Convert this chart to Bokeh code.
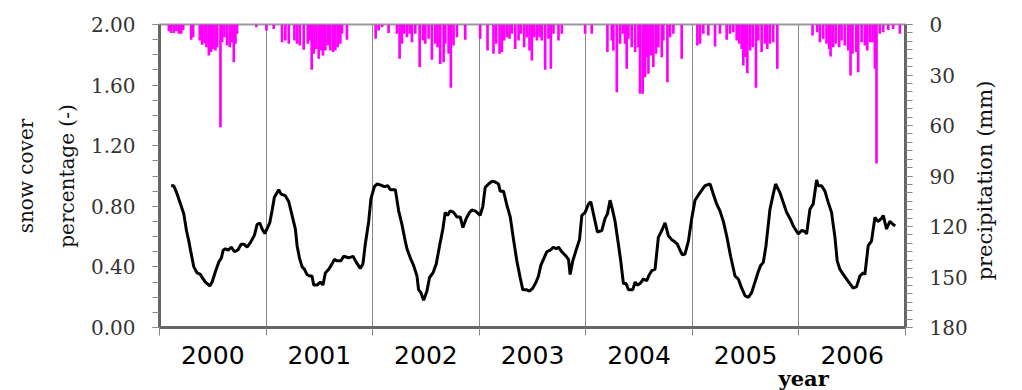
import math
from bokeh.plotting import figure
from bokeh.models import (Range1d, LinearAxis, FixedTicker, PrintfTickFormatter, Title)
from bokeh.embed import file_html
from bokeh.resources import INLINE

# ---- data ----
years = [2000, 2001, 2002, 2003, 2004, 2005, 2006]

snow_t = [2000.109, 2000.134, 2000.166, 2000.197, 2000.228, 2000.253, 2000.275, 2000.291, 2000.322, 2000.353,
          2000.384, 2000.400, 2000.431, 2000.472, 2000.494, 2000.525, 2000.556, 2000.581, 2000.597, 2000.619,
          2000.644, 2000.675, 2000.703, 2000.734, 2000.766, 2000.791, 2000.822, 2000.853, 2000.891, 2000.916,
          2000.941, 2000.963, 2000.988, 2001.034, 2001.056, 2001.078, 2001.119, 2001.141, 2001.181, 2001.213,
          2001.244, 2001.275, 2001.291, 2001.313, 2001.338, 2001.359, 2001.384, 2001.409, 2001.431, 2001.447,
          2001.478, 2001.509, 2001.534, 2001.556, 2001.588, 2001.619, 2001.641, 2001.666, 2001.703, 2001.728,
          2001.775, 2001.816, 2001.847, 2001.884, 2001.909, 2001.931, 2001.963, 2001.984, 2002.016, 2002.041,
          2002.078, 2002.109, 2002.141, 2002.166, 2002.213, 2002.244, 2002.275, 2002.306, 2002.322, 2002.353,
          2002.384, 2002.416, 2002.431, 2002.453, 2002.478, 2002.509, 2002.534, 2002.566, 2002.597, 2002.628,
          2002.659, 2002.681, 2002.703, 2002.728, 2002.759, 2002.791, 2002.822, 2002.847, 2002.878, 2002.909,
          2002.931, 2002.963, 2002.994, 2003.009, 2003.034, 2003.056, 2003.088, 2003.119, 2003.150, 2003.181,
          2003.197, 2003.228, 2003.259, 2003.291, 2003.322, 2003.353, 2003.384, 2003.409, 2003.441, 2003.472,
          2003.503, 2003.534, 2003.556, 2003.578, 2003.603, 2003.634, 2003.666, 2003.697, 2003.722, 2003.744,
          2003.775, 2003.816, 2003.838, 2003.853, 2003.878, 2003.909, 2003.941, 2003.963, 2003.994, 2004.025,
          2004.047, 2004.078, 2004.109, 2004.150, 2004.181, 2004.203, 2004.228, 2004.253, 2004.275, 2004.306,
          2004.328, 2004.353, 2004.378, 2004.400, 2004.441, 2004.463, 2004.484, 2004.509, 2004.541, 2004.572,
          2004.597, 2004.619, 2004.650, 2004.681, 2004.713, 2004.744, 2004.775, 2004.806, 2004.828, 2004.859,
          2004.884, 2004.906, 2004.931, 2004.963, 2004.994, 2005.025, 2005.072, 2005.119, 2005.166, 2005.197,
          2005.228, 2005.259, 2005.291, 2005.322, 2005.359, 2005.400, 2005.431, 2005.463, 2005.494, 2005.525,
          2005.556, 2005.588, 2005.619, 2005.641, 2005.666, 2005.691, 2005.728, 2005.759, 2005.781, 2005.822,
          2005.853, 2005.884, 2005.916, 2005.947, 2005.994, 2006.025, 2006.056, 2006.072, 2006.103, 2006.134,
          2006.166, 2006.181, 2006.213, 2006.244, 2006.275, 2006.306, 2006.338, 2006.359, 2006.384, 2006.416,
          2006.447, 2006.478, 2006.509, 2006.541, 2006.572, 2006.603, 2006.619, 2006.650, 2006.681, 2006.713,
          2006.744, 2006.775, 2006.791, 2006.822, 2006.853, 2006.884, 2006.903]

snow_v = [0.936, 0.936, 0.88, 0.815, 0.75, 0.64, 0.57, 0.51, 0.40, 0.36,
          0.35, 0.33, 0.30, 0.275, 0.30, 0.37, 0.43, 0.46, 0.51, 0.52,
          0.51, 0.53, 0.50, 0.51, 0.55, 0.55, 0.53, 0.56, 0.61, 0.68,
          0.69, 0.65, 0.62, 0.69, 0.77, 0.86, 0.91, 0.88, 0.87, 0.83,
          0.74, 0.65, 0.54, 0.46, 0.40, 0.385, 0.35, 0.34, 0.34, 0.28,
          0.28, 0.30, 0.28, 0.36, 0.385, 0.42, 0.45, 0.44, 0.44, 0.47,
          0.46, 0.47, 0.43, 0.39, 0.42, 0.55, 0.70, 0.85, 0.93, 0.947,
          0.94, 0.93, 0.936, 0.91, 0.91, 0.77, 0.68, 0.57, 0.52, 0.46,
          0.41, 0.34, 0.25, 0.23, 0.18, 0.24, 0.33, 0.36, 0.42, 0.54,
          0.65, 0.76, 0.74, 0.77, 0.76, 0.73, 0.73, 0.66, 0.72, 0.76,
          0.775, 0.77, 0.75, 0.74, 0.80, 0.925, 0.947, 0.965, 0.96, 0.947,
          0.90, 0.90, 0.81, 0.73, 0.58, 0.44, 0.33, 0.25, 0.25, 0.24,
          0.26, 0.30, 0.34, 0.41, 0.45, 0.50, 0.51, 0.53, 0.52, 0.53,
          0.50, 0.47, 0.45, 0.35, 0.44, 0.51, 0.58, 0.74, 0.76, 0.815,
          0.83, 0.73, 0.63, 0.64, 0.72, 0.75, 0.84, 0.77, 0.70, 0.55,
          0.44, 0.29, 0.29, 0.25, 0.25, 0.30, 0.28, 0.29, 0.32, 0.31,
          0.35, 0.375, 0.385, 0.595, 0.64, 0.69, 0.605, 0.58, 0.57, 0.55,
          0.51, 0.48, 0.485, 0.57, 0.72, 0.84, 0.89, 0.936, 0.947, 0.88,
          0.815, 0.77, 0.70, 0.605, 0.47, 0.34, 0.32, 0.26, 0.21, 0.198,
          0.23, 0.30, 0.37, 0.41, 0.43, 0.54, 0.78, 0.88, 0.947, 0.89,
          0.826, 0.76, 0.72, 0.67, 0.617, 0.64, 0.634, 0.617, 0.78, 0.815,
          0.974, 0.936, 0.936, 0.90, 0.826, 0.76, 0.595, 0.44, 0.385, 0.35,
          0.32, 0.29, 0.26, 0.27, 0.34, 0.36, 0.35, 0.54, 0.57, 0.727,
          0.70, 0.72, 0.74, 0.65, 0.70, 0.68, 0.67]

precip_t = [2000.088, 2000.109, 2000.134, 2000.159, 2000.181, 2000.203, 2000.222, 2000.297, 2000.316, 2000.378,
            2000.400, 2000.422, 2000.441, 2000.463, 2000.484, 2000.503, 2000.525, 2000.541, 2000.572, 2000.588,
            2000.609, 2000.634, 2000.659, 2000.681, 2000.697, 2000.713, 2000.728, 2000.909, 2001.003, 2001.072,
            2001.150, 2001.181, 2001.213, 2001.266, 2001.291, 2001.316, 2001.353, 2001.391, 2001.409, 2001.428,
            2001.447, 2001.472, 2001.494, 2001.516, 2001.534, 2001.556, 2001.578, 2001.603, 2001.628, 2001.650,
            2001.672, 2001.697, 2001.713, 2001.759, 2002.028, 2002.056, 2002.088, 2002.150, 2002.228, 2002.253,
            2002.275, 2002.297, 2002.322, 2002.347, 2002.369, 2002.400, 2002.441, 2002.472, 2002.494, 2002.525,
            2002.556, 2002.588, 2002.609, 2002.634, 2002.666, 2002.681, 2002.713, 2002.734, 2002.759, 2002.791,
            2002.869, 2003.009, 2003.078, 2003.134, 2003.159, 2003.191, 2003.213, 2003.234, 2003.259, 2003.284,
            2003.306, 2003.338, 2003.369, 2003.391, 2003.422, 2003.447, 2003.472, 2003.494, 2003.516, 2003.541,
            2003.566, 2003.588, 2003.619, 2003.650, 2003.672, 2003.697, 2003.744, 2003.775, 2003.994, 2004.056,
            2004.203, 2004.244, 2004.259, 2004.291, 2004.322, 2004.347, 2004.369, 2004.384, 2004.400, 2004.431,
            2004.463, 2004.494, 2004.509, 2004.534, 2004.556, 2004.572, 2004.588, 2004.609, 2004.634, 2004.659,
            2004.681, 2004.713, 2004.728, 2004.766, 2004.791, 2004.822, 2004.900, 2005.047, 2005.072, 2005.103,
            2005.150, 2005.213, 2005.259, 2005.322, 2005.353, 2005.384, 2005.416, 2005.441, 2005.463, 2005.478,
            2005.494, 2005.516, 2005.541, 2005.566, 2005.597, 2005.619, 2005.650, 2005.681, 2005.703, 2005.728,
            2005.759, 2005.797, 2006.128, 2006.172, 2006.197, 2006.228, 2006.259, 2006.284, 2006.297, 2006.322,
            2006.347, 2006.378, 2006.400, 2006.431, 2006.463, 2006.484, 2006.503, 2006.538, 2006.556, 2006.588,
            2006.619, 2006.641, 2006.666, 2006.691, 2006.713, 2006.728, 2006.759, 2006.791, 2006.838, 2006.884,
            2006.947]

precip_mm = [4.0, 5.1, 5.1, 4.0, 5.5, 5.5, 3.2, 9.1, 7.5, 9.5,
             12.1, 11.1, 13.5, 18.4, 16.4, 14.5, 15.4, 13.5, 61.0, 10.5,
             7.5, 12.5, 13.5, 10.5, 22.4, 11.5, 5.5, 1.6, 3.6, 2.6,
             10.5, 9.5, 11.5, 9.5, 11.5, 12.5, 15.0, 11.5, 9.5, 26.9,
             17.4, 14.5, 20.4, 15.4, 18.4, 15.4, 12.5, 15.4, 16.4, 15.4,
             13.5, 11.5, 5.5, 9.1, 8.5, 3.6, 1.6, 5.1, 5.5, 20.4,
             11.5, 5.5, 7.5, 5.5, 10.5, 5.5, 25.3, 9.5, 11.5, 8.5,
             21.0, 11.5, 13.5, 23.4, 22.4, 11.5, 17.4, 37.6, 12.5, 7.5,
             9.1, 8.5, 15.4, 17.4, 11.5, 17.4, 16.4, 9.5, 7.5, 8.5,
             5.5, 14.5, 9.5, 5.5, 13.5, 7.5, 15.4, 21.4, 7.5, 9.5,
             7.5, 9.5, 26.9, 8.5, 26.3, 5.5, 9.5, 5.5, 5.5, 5.5,
             16.4, 9.5, 15.4, 40.2, 11.5, 5.5, 11.5, 26.3, 8.5, 13.5,
             16.4, 13.5, 41.2, 41.2, 31.3, 19.4, 29.3, 18.4, 25.3, 17.4,
             13.5, 19.4, 9.5, 34.3, 7.5, 5.5, 20.4, 12.5, 11.5, 5.5,
             6.5, 13.1, 5.5, 9.1, 5.5, 4.6, 9.5, 11.5, 14.5, 24.4,
             19.4, 28.9, 15.4, 13.5, 37.6, 9.5, 16.4, 11.5, 14.5, 11.5,
             10.5, 26.3, 6.5, 4.6, 10.5, 8.5, 11.5, 14.5, 19.0, 13.5,
             11.5, 13.5, 9.5, 12.5, 15.4, 30.3, 17.4, 16.4, 28.3, 10.5,
             12.5, 15.4, 10.5, 10.5, 26.3, 82.6, 5.5, 4.6, 3.2, 2.6,
             5.5]

left_ticks = [0.0, 0.4, 0.8, 1.2, 1.6, 2.0]
right_ticks = [0, 30, 60, 90, 120, 150, 180]

# ---- figure ----
SERIF = "DejaVu Serif"
p = figure(width=1014, height=390, output_backend="svg", toolbar_location=None,
           x_range=Range1d(years[0], years[-1] + 1), y_range=Range1d(0, 2),
           min_border_left=159, min_border_right=109, min_border_top=24, min_border_bottom=63,
           background_fill_color="white", border_fill_color="white")
p.outline_line_color = "#999999"
p.outline_line_width = 2
p.ygrid.visible = False
p.xgrid.ticker = FixedTicker(ticks=years + [years[-1] + 1])
p.xgrid.grid_line_color = "#888888"
p.xgrid.grid_line_width = 1

p.extra_y_ranges = {"precip": Range1d(right_ticks[-1], right_ticks[0])}

# precipitation bars hanging from the top
p.vbar(x=precip_t, width=0.025, top=[0] * len(precip_mm), bottom=precip_mm,
       y_range_name="precip", fill_color="#ff00ff", line_color=None)

# snow cover line
p.line(snow_t, snow_v, line_color="black", line_width=3)

def style_axis(ax):
    ax.axis_line_color = "#666666"
    ax.axis_line_width = 3
    ax.major_tick_line_color = "#888888"
    ax.minor_tick_line_color = "#888888"
    ax.major_tick_in = 0
    ax.minor_tick_in = 0
    ax.major_tick_out = 7
    ax.minor_tick_out = 7
    ax.major_label_text_font = SERIF
    ax.major_label_text_font_size = "20px"
    ax.major_label_text_color = "#333333"
    ax.axis_label_text_font = SERIF
    ax.axis_label_text_font_size = "20px"
    ax.axis_label_text_font_style = "normal"
    ax.axis_label_text_color = "#111111"

def label_only_axis(ax):
    ax.axis_line_color = None
    ax.major_tick_line_color = None
    ax.minor_tick_line_color = None
    ax.axis_label_text_font = SERIF
    ax.axis_label_text_font_size = "20px"
    ax.axis_label_text_font_style = "normal"
    ax.axis_label_text_color = "#111111"

# left axis
ly = p.yaxis[0]
ly.ticker = FixedTicker(ticks=left_ticks, minor_ticks=[i / 10 for i in range(21)])
ly.formatter = PrintfTickFormatter(format="%.2f")
style_axis(ly)
ly.major_label_standoff = 17
ly.axis_label = "percentage (-)"
ly.axis_label_standoff = 9

ly2 = LinearAxis(ticker=FixedTicker(ticks=[]), axis_label="snow cover")
label_only_axis(ly2)
ly2.axis_label_standoff = 14
p.add_layout(ly2, "left")

# right axis (reversed precipitation)
ry = LinearAxis(y_range_name="precip",
                ticker=FixedTicker(ticks=right_ticks, minor_ticks=list(range(0, 181, 5))))
style_axis(ry)
ry.major_label_standoff = 17
p.add_layout(ry, "right")

# its title, reading bottom-to-top, drawn as a rotated tick label
TITLE_AT = 152
ry2 = LinearAxis(y_range_name="precip", ticker=FixedTicker(ticks=[TITLE_AT]))
label_only_axis(ry2)
ry2.major_label_overrides = {TITLE_AT: "precipitation (mm)"}
ry2.major_label_orientation = math.pi / 2
ry2.major_label_text_font = SERIF
ry2.major_label_text_font_size = "21px"
ry2.major_label_text_color = "#111111"
ry2.major_label_standoff = 15
ry2.major_tick_out = 0
ry2.major_tick_in = 0
p.add_layout(ry2, "right")

# bottom axis: boundaries as small ticks, labels centred in each year
bx = p.xaxis[0]
bx.ticker = FixedTicker(ticks=[y + 0.5 for y in years], minor_ticks=years + [years[-1] + 1])
bx.major_label_overrides = {y + 0.5: str(y) for y in years}
bx.axis_line_color = "#666666"
bx.axis_line_width = 3
bx.major_tick_line_color = None
bx.major_tick_out = 0
bx.major_tick_in = 0
bx.minor_tick_line_color = "#888888"
bx.minor_tick_in = 0
bx.minor_tick_out = 8
bx.major_label_text_font = "DejaVu Sans"
bx.major_label_text_font_size = "25px"
bx.major_label_text_color = "black"
bx.major_label_standoff = 10

p.add_layout(Title(text="year", align="left", offset=619, standoff=-6,
                   text_font=SERIF, text_font_size="21px", text_font_style="bold",
                   text_color="black"), "below")

open("out.html", "w").write(file_html(p, INLINE))
